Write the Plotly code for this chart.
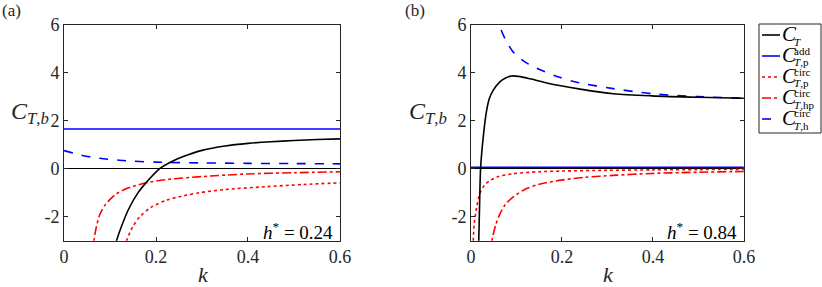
import plotly.graph_objects as go

# ---------------- data ----------------
# Panel (a): h* = 0.24
a_CT_k = [0.105, 0.114, 0.125, 0.14, 0.161, 0.18, 0.208, 0.24, 0.27, 0.30, 0.35, 0.40, 0.45, 0.50, 0.55, 0.60]
a_CT_y = [-3.6, -3.0, -2.4, -1.7, -1.0, -0.55, 0.0, 0.35, 0.58, 0.76, 0.94, 1.05, 1.12, 1.17, 1.21, 1.24]
a_addp_k = [0.0, 0.6]
a_addp_y = [1.65, 1.65]
a_circp_k = [0.13, 0.136, 0.15, 0.165, 0.19, 0.223, 0.26, 0.295, 0.35, 0.44, 0.52, 0.60]
a_circp_y = [-3.5, -3.0, -2.4, -2.0, -1.6, -1.31, -1.13, -1.0, -0.87, -0.75, -0.66, -0.59]
a_circhp_k = [0.062, 0.065, 0.070, 0.078, 0.088, 0.098, 0.114, 0.13, 0.15, 0.179, 0.22, 0.30, 0.40, 0.50, 0.60]
a_circhp_y = [-3.5, -3.0, -2.45, -1.9, -1.55, -1.32, -1.05, -0.88, -0.74, -0.59, -0.46, -0.33, -0.22, -0.17, -0.13]
a_circh_k = [0.0, 0.04, 0.078, 0.12, 0.15, 0.20, 0.30, 0.40, 0.50, 0.60]
a_circh_y = [0.75, 0.55, 0.43, 0.35, 0.31, 0.27, 0.24, 0.22, 0.21, 0.20]

# Panel (b): h* = 0.84
b_CT_k = [0.016, 0.017, 0.019, 0.021, 0.024, 0.027, 0.031, 0.0345, 0.04, 0.049, 0.064, 0.075, 0.089,
          0.105, 0.13, 0.16, 0.194, 0.24, 0.313, 0.397, 0.50, 0.60]
b_CT_y = [-3.4, -3.0, -1.4, 0.0, 0.75, 1.33, 2.0, 2.44, 2.9, 3.27, 3.62, 3.76, 3.86,
          3.84, 3.74, 3.6, 3.46, 3.31, 3.12, 3.03, 2.97, 2.93]
b_addp_k = [0.0, 0.6]
b_addp_y = [0.06, 0.06]
b_circp_k = [0.004, 0.005, 0.007, 0.0125, 0.02, 0.03, 0.042, 0.06, 0.093, 0.15, 0.20, 0.30, 0.40, 0.50, 0.60]
b_circp_y = [-3.5, -3.0, -2.3, -1.6, -1.0, -0.68, -0.49, -0.33, -0.21, -0.13, -0.1, -0.07, -0.05, -0.04, -0.03]
b_circhp_k = [0.043, 0.046, 0.055, 0.064, 0.075, 0.093, 0.12, 0.15, 0.194, 0.25, 0.313, 0.397, 0.50, 0.60]
b_circhp_y = [-3.5, -3.0, -2.3, -1.87, -1.5, -1.18, -0.85, -0.65, -0.49, -0.36, -0.28, -0.2, -0.15, -0.12]
b_circh_k = [0.058, 0.062, 0.075, 0.093, 0.122, 0.16, 0.195, 0.232, 0.313, 0.397, 0.50, 0.60]
b_circh_y = [6.5, 6.0, 5.4, 4.85, 4.4, 4.05, 3.8, 3.6, 3.33, 3.12, 3.0, 2.93]

x_ticks = [0, 0.2, 0.4, 0.6]
x_ticklabels = ["0", "0.2", "0.4", "0.6"]
y_ticks = [-2, 0, 2, 4, 6]
y_ticklabels = ["-2", "0", "2", "4", "6"]

panels = [
    dict(ax="", CT=(a_CT_k, a_CT_y), addp=(a_addp_k, a_addp_y), circp=(a_circp_k, a_circp_y),
         circhp=(a_circhp_k, a_circhp_y), circh=(a_circh_k, a_circh_y), hstar="0.24", tag="(a)"),
    dict(ax="2", CT=(b_CT_k, b_CT_y), addp=(b_addp_k, b_addp_y), circp=(b_circp_k, b_circp_y),
         circhp=(b_circhp_k, b_circhp_y), circh=(b_circh_k, b_circh_y), hstar="0.84", tag="(b)"),
]

styles = {
    "CT": dict(color="black", dash="solid", width=1.6),
    "addp": dict(color="#0000ff", dash="solid", width=1.6),
    "circp": dict(color="#ff0000", dash="dot", width=1.6),
    "circhp": dict(color="#ff0000", dash="dashdot", width=1.6),
    "circh": dict(color="#0000ff", dash="dash", width=1.6),
}
order = ["addp", "circh", "circhp", "circp", "CT"]

FONT = "Liberation Serif"
AXC = "#262626"

fig = go.Figure()
for p in panels:
    for key in order:
        kx, ky = p[key]
        fig.add_trace(go.Scatter(
            x=kx, y=ky, mode="lines", line=dict(shape="spline", smoothing=0.8, **styles[key]),
            xaxis="x" + p["ax"], yaxis="y" + p["ax"], showlegend=False, hoverinfo="skip"))

ydom = [0.1613, 0.9146]
xdoms = [[0.0779, 0.4136], [0.573, 0.905]]

axcommon = dict(showgrid=False, showline=True, linecolor=AXC, linewidth=1, mirror="ticks",
                ticks="inside", ticklen=4, tickcolor=AXC, tickwidth=1,
                tickfont=dict(family=FONT, size=18, color=AXC))

layout = dict(width=822, height=287, margin=dict(l=0, r=0, t=0, b=0, autoexpand=False),
              plot_bgcolor="white", paper_bgcolor="white", showlegend=False)
for i, p in enumerate(panels):
    sx = "xaxis" + p["ax"]
    sy = "yaxis" + p["ax"]
    layout[sx] = dict(domain=xdoms[i], range=[0, 0.6], tickvals=x_ticks, ticktext=x_ticklabels,
                      zeroline=False, anchor="y" + p["ax"], **axcommon)
    layout[sy] = dict(domain=ydom, range=[-3, 6], tickvals=y_ticks, ticktext=y_ticklabels,
                      zeroline=True, zerolinecolor="black", zerolinewidth=1,
                      anchor="x" + p["ax"], **axcommon)
fig.update_layout(**layout)


def ann(x, y, text, size, xanchor="center", color=AXC, **kw):
    d = dict(x=x, y=y, xref="paper", yref="paper", text=text, showarrow=False,
             xanchor=xanchor, yanchor="middle", font=dict(family=FONT, size=size, color=color))
    d.update(kw)
    return d


annotations = []
# axis labels and panel tags
label_pos = [(30, 203, 0), (428, 608, 403)]
for i, p in enumerate(panels):
    cx, kx, tagx = label_pos[i]
    annotations.append(ann(cx / 822, 1 - 113 / 287, "<i>C</i><sub><i>T</i>,<i>b</i></sub>", 24))
    annotations.append(ann(kx / 822, 1 - 274 / 287, "<i>k</i>", 22))
    annotations.append(ann(tagx / 822, 1 - 10 / 287, p["tag"], 17, xanchor="left"))
    annotations.append(dict(x=0.59, y=-2.6, xref="x" + p["ax"], yref="y" + p["ax"],
                            xanchor="right", yanchor="middle",
                            text="<i>h</i><sup>*</sup> = " + p["hstar"],
                            showarrow=False, font=dict(family=FONT, size=19, color="black")))

# manual legend
legend_items = [
    ("CT", "<i>T</i>", None),
    ("addp", "<i>T</i>,p", "add"),
    ("circp", "<i>T</i>,p", "circ"),
    ("circhp", "<i>T</i>,hp", "circ"),
    ("circh", "<i>T</i>,h", "circ"),
]
shapes = [dict(type="rect", xref="paper", yref="paper", x0=759 / 822, x1=821 / 822,
               y0=1 - 133 / 287, y1=1 - 24 / 287, line=dict(color=AXC, width=1),
               fillcolor="white", layer="above")]
ycent = [35, 56, 77, 98, 119]
for (key, sub, sup), yc in zip(legend_items, ycent):
    st = styles[key]
    shapes.append(dict(type="line", xref="paper", yref="paper", x0=762 / 822, x1=780 / 822,
                       y0=1 - yc / 287, y1=1 - yc / 287, layer="above",
                       line=dict(color=st["color"], dash=st["dash"], width=1.6)))
    annotations.append(ann(781 / 822, 1 - (yc - 1) / 287, "<i>C</i>", 21, xanchor="left",
                           color="black", borderpad=0))
    annotations.append(ann(793 / 822, 1 - (yc + 6.5) / 287, sub, 11, xanchor="left",
                           color="black", borderpad=0))
    if sup:
        annotations.append(ann(793 / 822, 1 - (yc - 5.5) / 287, sup, 11, xanchor="left",
                               color="black", borderpad=0))

fig.update_layout(annotations=annotations, shapes=shapes)
fig.write_html("out.html", config={"displayModeBar": False},
               post_script="document.body.style.margin='0';")
